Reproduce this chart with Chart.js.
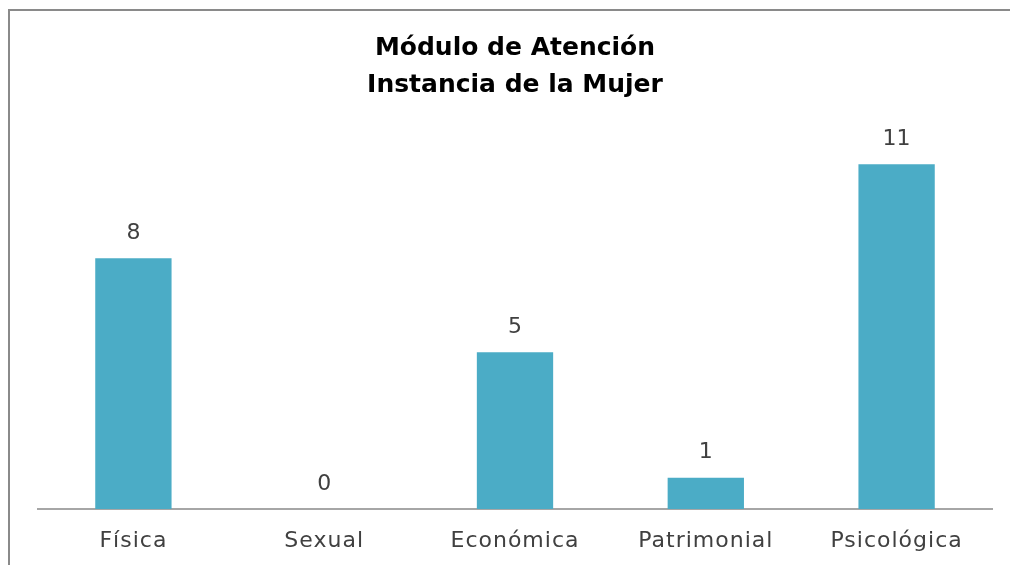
<!DOCTYPE html>
<html><head><meta charset="utf-8">
<script src="https://cdn.jsdelivr.net/npm/chart.js@4"></script>
<style>html,body{margin:0;padding:0;background:#fff;}#wrap{width:1010px;height:565px;position:relative;}</style>
</head><body><div id="wrap"><canvas id="c" width="1010" height="565"></canvas></div>
<script>
const titleLines = ["Módulo de Atención", "Instancia de la Mujer"];
const categories = ["Física", "Sexual", "Económica", "Patrimonial", "Psicológica"];
const values = [8, 0, 5, 1, 11];
const FONT = "'DejaVu Sans', sans-serif";

const deco = {
  id: 'deco',
  beforeDraw(chart) {
    const ctx = chart.ctx;
    ctx.save();
    ctx.fillStyle = '#fff';
    ctx.fillRect(0, 0, chart.width, chart.height);
    ctx.strokeStyle = '#8a8a8a';
    ctx.lineWidth = 2;
    ctx.strokeRect(9, 10, 1100, 1100);
    ctx.restore();
    ctx.letterSpacing = '1px';
  },
  afterDraw(chart) {
    const ctx = chart.ctx;
    ctx.save();
    ctx.letterSpacing = '0px';
    ctx.fillStyle = '#000';
    ctx.font = "bold 25px " + FONT;
    ctx.textAlign = 'center';
    ctx.textBaseline = 'middle';
    const cx = (chart.chartArea.left + chart.chartArea.right) / 2;
    ctx.fillText(titleLines[0], cx, 48);
    ctx.fillText(titleLines[1], cx, 85);
    ctx.font = "22px " + FONT;
    ctx.fillStyle = '#404040';
    const meta = chart.getDatasetMeta(0);
    meta.data.forEach((bar, i) => {
      ctx.fillText(String(values[i]), bar.x, bar.y - 25);
    });
    ctx.restore();
  }
};

new Chart(document.getElementById('c'), {
  type: 'bar',
  data: { labels: categories, datasets: [{ data: values, backgroundColor: '#4BACC6', barPercentage: 0.8, categoryPercentage: 0.5 }] },
  options: {
    responsive: false, animation: false,
    layout: { padding: { left: 38, right: 18, top: 133, bottom: 0 } },
    plugins: { legend: { display: false }, title: { display: false }, tooltip: { enabled: false } },
    scales: {
      x: {
        grid: { display: false, drawTicks: false },
        border: { display: true, color: '#a6a6a6', width: 2 },
        ticks: { color: '#404040', font: { family: FONT, size: 22 }, padding: 19 },
        afterFit(s) { s.height = 56; }
      },
      y: { display: false, min: 0, max: 12 }
    }
  },
  plugins: [deco]
});
</script></body></html>
